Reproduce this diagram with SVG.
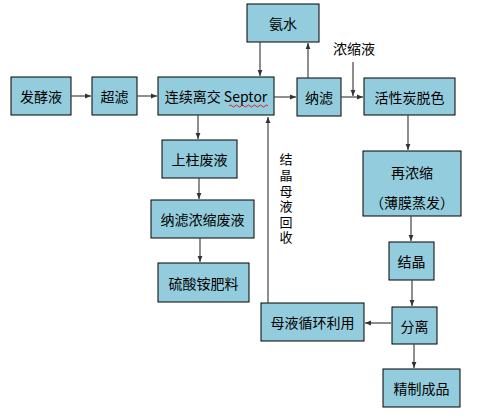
<svg xmlns="http://www.w3.org/2000/svg" width="478" height="420" viewBox="0 0 478 420">
<defs>
<marker id="ah" viewBox="0 0 10 10" refX="10" refY="5" markerWidth="6" markerHeight="6" orient="auto" markerUnits="userSpaceOnUse">
<path d="M0,1 L10,5 L0,9 Z" fill="#333"/>
</marker>
<style>
.box{fill:#93CDDD;stroke:#000;stroke-width:1}
.t{font-family:"Noto Sans CJK SC","Liberation Sans",sans-serif;font-size:14px;fill:#000;text-anchor:middle;dominant-baseline:central}
.c{stroke:#444;stroke-width:1.2;fill:none;marker-end:url(#ah)}
.v{font-family:"Noto Sans CJK SC","Liberation Sans",sans-serif;font-size:13px;fill:#000;writing-mode:tb;letter-spacing:2.6px}
</style>
</defs>
<rect width="478" height="420" fill="#fff"/>
<g id="n1"><rect class="box" x="11" y="77" width="60" height="38"/><text class="t" x="41" y="96">发酵液</text></g>
<g id="n2"><rect class="box" x="92" y="77" width="45" height="38"/><text class="t" x="114.5" y="96">超滤</text></g>
<g id="n3"><rect class="box" x="158" y="77" width="116" height="38"/><text class="t" x="216" y="96">连续离交 Septor</text><path d="M229,106 q1.5,-2 3,0 t3,0 t3,0 t3,0 t3,0 t3,0 t3,0 t3,0 t3,0 t3,0 t3,0 t3,0 t3,0" fill="none" stroke="#d00" stroke-width="0.8"/></g>
<g id="n4"><rect class="box" x="247" y="4" width="72" height="38"/><text class="t" x="283" y="23">氨水</text></g>
<g id="n5"><rect class="box" x="297" y="78" width="44" height="38"/><text class="t" x="319" y="97">纳滤</text></g>
<g id="n6"><rect class="box" x="364" y="78" width="91" height="37"/><text class="t" x="409.5" y="96.5">活性炭脱色</text></g>
<g id="n7"><rect class="box" x="363" y="151" width="98" height="65"/><text class="t" x="412" y="172">再浓缩</text><text class="t" x="412" y="202">（薄膜蒸发）</text></g>
<g id="n8"><rect class="box" x="389" y="242" width="45" height="38"/><text class="t" x="411.5" y="261">结晶</text></g>
<g id="n9"><rect class="box" x="392" y="307" width="45" height="37"/><text class="t" x="414.5" y="325.5">分离</text></g>
<g id="n10"><rect class="box" x="383" y="369" width="77" height="38"/><text class="t" x="421.5" y="388">精制成品</text></g>
<g id="n11"><rect class="box" x="261" y="303" width="103" height="38"/><text class="t" x="312.5" y="322">母液循环利用</text></g>
<g id="n12"><rect class="box" x="162" y="140" width="75" height="38"/><text class="t" x="199.5" y="159">上柱废液</text></g>
<g id="n13"><rect class="box" x="151" y="200" width="103" height="38"/><text class="t" x="202.5" y="219">纳滤浓缩废液</text></g>
<g id="n14"><rect class="box" x="158" y="263" width="91" height="39"/><text class="t" x="203.5" y="282.5">硫酸铵肥料</text></g>
<g id="labels">
<text class="t" x="354" y="48">浓缩液</text>
<text class="v" x="286" y="153">结晶母液回收</text>
</g>
<g id="connectors">
<line class="c" x1="71" y1="96" x2="91" y2="96"/>
<line class="c" x1="137" y1="96" x2="157" y2="96"/>
<line class="c" x1="274" y1="97" x2="296" y2="97"/>
<line class="c" x1="260" y1="42" x2="260" y2="76"/>
<line class="c" x1="308" y1="78" x2="308" y2="43"/>
<line class="c" x1="341" y1="97" x2="363" y2="97"/>
<line class="c" x1="353" y1="62" x2="353" y2="96"/>
<line class="c" x1="408" y1="115" x2="408" y2="150"/>
<line class="c" x1="411" y1="216" x2="411" y2="241"/>
<line class="c" x1="412" y1="280" x2="412" y2="306"/>
<line class="c" x1="414" y1="344" x2="414" y2="368"/>
<line class="c" x1="391" y1="323" x2="365" y2="323"/>
<line class="c" x1="268" y1="303" x2="268" y2="117"/>
<line class="c" x1="198" y1="115" x2="198" y2="139"/>
<line class="c" x1="199" y1="178" x2="199" y2="199"/>
<line class="c" x1="200" y1="238" x2="200" y2="262"/>
</g>
</svg>
